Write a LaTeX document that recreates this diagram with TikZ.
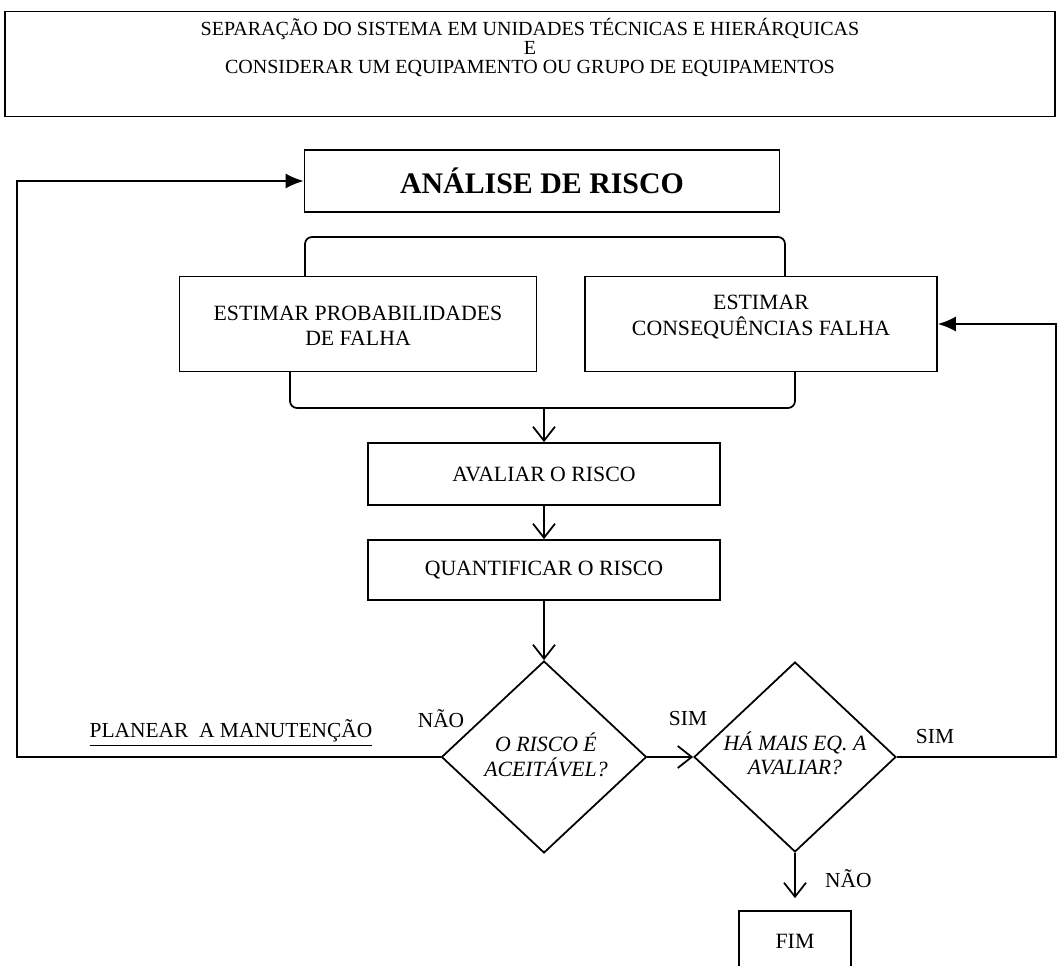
\documentclass[tikz,border=0pt]{standalone}
\usepackage{fontspec}
\setmainfont{Liberation Serif}
\usetikzlibrary{positioning, shapes.geometric, arrows.meta}

\tikzset{
    box/.style={draw, inner sep=0, align=center, font=\fontsize{12.4}{14.5}\selectfont},
    dec/.style={draw, diamond, inner sep=0},
    txt/.style={inner sep=1pt, align=center, font=\fontsize{12.4}{14.5}\selectfont},
    lbl/.style={inner sep=1pt, font=\fontsize{12.2}{13}\selectfont},
    open/.style={-{Straight Barb[length=2.8mm, width=4.4mm]}},
    fillarrow/.style={-{Latex[length=3.6mm, width=3mm]}},
}

\begin{document}
\begin{tikzpicture}[x=0.02cm, y=-0.02cm, line width=1pt]
    \useasboundingbox (0,0) rectangle (1059,966);

    % header
    \node[box, minimum width=21cm, minimum height=2.1cm] (hdr) at (530,64) {};
    \node[txt, font=\fontsize{11.4}{10.8}\selectfont] (hdrtxt) at (530,48)
        {SEPARAÇÃO DO SISTEMA EM UNIDADES TÉCNICAS E HIERÁRQUICAS\\E\\CONSIDERAR UM EQUIPAMENTO OU GRUPO DE EQUIPAMENTOS};

    \node[box, minimum width=9.5cm, minimum height=1.24cm, font=\bfseries\fontsize{17}{19}\selectfont] (ana) at (542,181) {ANÁLISE DE RISCO};

    \node[box, minimum width=7.14cm, minimum height=1.9cm] (prob) at (358,324) {};
    \node[txt] (probtxt) at (358,326) {ESTIMAR PROBABILIDADES\\DE FALHA};
    \node[box, minimum width=7.04cm, minimum height=1.9cm] (cons) at (761,324) {};
    \node[txt] (constxt) at (761,317) {ESTIMAR\\CONSEQUÊNCIAS FALHA};

    \node[box, minimum width=7.04cm, minimum height=1.24cm] (aval) at (544,474) {AVALIAR O RISCO};
    \node[box, minimum width=7.04cm, minimum height=1.2cm] (quant) at (544,570) {QUANTIFICAR O RISCO};

    \node[dec, minimum width=4.1cm, minimum height=3.84cm] (risk) at (544,757) {};
    \node[txt, font=\fontsize{12.4}{14.5}\selectfont\itshape] (risktxt) at (546,755) {O RISCO É\\ACEITÁVEL?};
    \node[dec, minimum width=4.04cm, minimum height=3.8cm] (more) at (795,757) {};
    \node[txt, font=\fontsize{12.4}{13.5}\selectfont\itshape] (moretxt) at (795,753) {HÁ MAIS EQ. A\\AVALIAR?};

    % end box, cut by the page edge
    \node[minimum width=2.2cm, minimum height=1.08cm] (fim) at (795,939) {};
    \node[txt] (fimtxt) at (795,941) {FIM};
    \draw (fim.south west) -- (fim.north west) -- (fim.north east) -- (fim.south east);

    % brackets
    \coordinate (bt1) at (305,277);
    \coordinate (bt2) at (785,277);
    \coordinate (bb1) at (290,372);
    \coordinate (bb2) at (795,372);
    \coordinate (join) at (544,408);
    \draw[rounded corners=4pt] (bt1) -- (305,237) -- (785,237) -- (bt2);
    \draw[rounded corners=4pt] (bb1) -- (290,408) -- (795,408) -- (bb2);

    % flow
    \draw[open] (join) -- (aval.north);
    \draw[open] (aval) -- (quant);
    \draw[open] (quant) -- (risk);
    \draw[open] (risk) -- (more);
    \draw[open, shorten >=0.26cm] (more) -- (fim.north);

    \coordinate (lft) at (17,757);
    \coordinate (rgt) at (1056,757);
    \draw[fillarrow] (risk.west) -- (lft) |- (ana.west);
    \draw[fillarrow] (more.east) -- (rgt) |- (cons.east);

    % labels
    \node[lbl] (plan) at (231,733) {\underline{PLANEAR\ \ A MANUTENÇÃO}};
    \node[lbl] (nao1) at (441,719) {NÃO};
    \node[lbl] (sim1) at (688,719) {SIM};
    \node[lbl] (sim2) at (935,737) {SIM};
    \node[lbl, right=0.55cm of more.south, yshift=-0.52cm] (nao2) {NÃO};
\end{tikzpicture}
\end{document}
